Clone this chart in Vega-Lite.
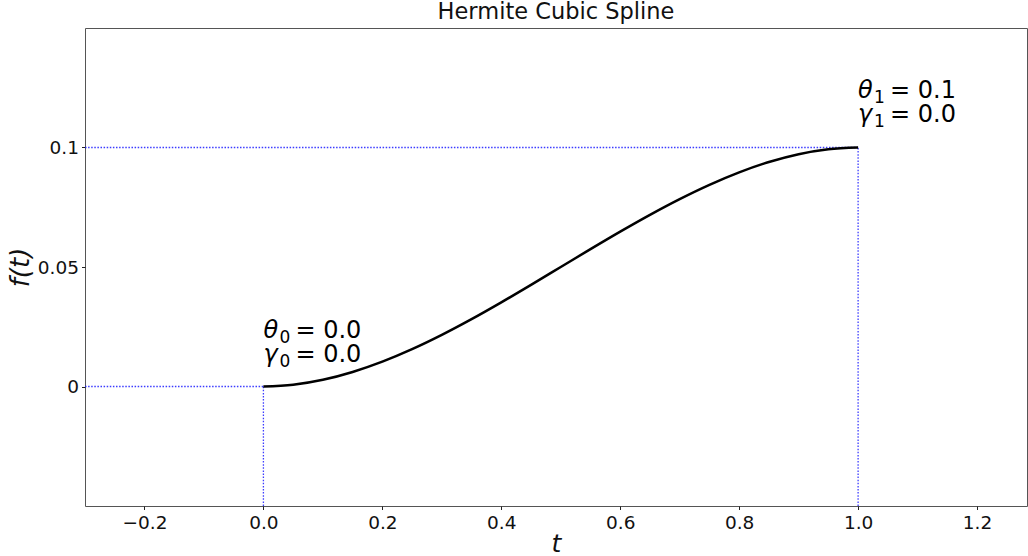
{
  "$schema": "https://vega.github.io/schema/vega-lite/v6.json",
  "autosize": "none",
  "width": 942,
  "height": 478,
  "padding": {"left": 85, "top": 28, "right": 1, "bottom": 50},
  "background": "white",
  "config": {
    "font": "DejaVu Sans",
    "view": {"stroke": "#555", "strokeWidth": 1},
    "axis": {"grid": false, "domain": false, "tickColor": "#222", "tickSize": 3.5, "labelFont": "DejaVu Sans", "labelFontSize": 18.5, "labelColor": "#111", "titleFont": "DejaVu Sans", "titleFontWeight": "normal", "titleColor": "#111"}
  },
  "title": {"text": "Hermite Cubic Spline", "fontSize": 22.5, "fontWeight": "normal", "font": "DejaVu Sans", "color": "#111", "anchor": "middle", "offset": 5},
  "layer": [
    {
      "data": {"values": [
        {"x1": -0.3, "x2": 0, "y1": 0, "y2": 0},
        {"x1": 0, "x2": 0, "y1": -0.05, "y2": 0},
        {"x1": -0.3, "x2": 1, "y1": 0.1, "y2": 0.1},
        {"x1": 1, "x2": 1, "y1": -0.05, "y2": 0.1}
      ]},
      "mark": {"type": "rule", "color": "#1a1aff", "opacity": 0.85, "strokeWidth": 1.3, "strokeDash": [1.5, 1.6]},
      "encoding": {
        "x": {"field": "x1", "type": "quantitative", "scale": {"domain": [-0.3, 1.284], "nice": false, "zero": false},
          "axis": {"values": [-0.2, 0, 0.2, 0.4, 0.6, 0.8, 1.0, 1.2], "format": ".1f", "title": "t", "titleFontSize": 25, "titleFontStyle": "italic", "titlePadding": -1, "labelPadding": 4}},
        "x2": {"field": "x2"},
        "y": {"field": "y1", "type": "quantitative", "scale": {"domain": [-0.05, 0.15], "nice": false, "zero": false},
          "axis": {"values": [0, 0.05, 0.1], "labelExpr": "format(datum.value, '~g')", "title": "f(t)", "titleFontSize": 26, "titleFontStyle": "italic", "titlePadding": 4, "labelPadding": 3}},
        "y2": {"field": "y2"}
      }
    },
    {
      "data": {"values": [
        {"t": 0, "f": 0}, {"t": 0.05, "f": 0.000725}, {"t": 0.1, "f": 0.0028}, {"t": 0.15, "f": 0.006075},
        {"t": 0.2, "f": 0.0104}, {"t": 0.25, "f": 0.015625}, {"t": 0.3, "f": 0.0216}, {"t": 0.35, "f": 0.028175},
        {"t": 0.4, "f": 0.0352}, {"t": 0.45, "f": 0.042525}, {"t": 0.5, "f": 0.05}, {"t": 0.55, "f": 0.057475},
        {"t": 0.6, "f": 0.0648}, {"t": 0.65, "f": 0.071825}, {"t": 0.7, "f": 0.0784}, {"t": 0.75, "f": 0.084375},
        {"t": 0.8, "f": 0.0896}, {"t": 0.85, "f": 0.093925}, {"t": 0.9, "f": 0.0972}, {"t": 0.95, "f": 0.099275},
        {"t": 1.0, "f": 0.1}
      ]},
      "mark": {"type": "line", "color": "#000", "strokeWidth": 2.5, "interpolate": "monotone"},
      "encoding": {
        "x": {"field": "t", "type": "quantitative"},
        "y": {"field": "f", "type": "quantitative"}
      }
    },
    {
      "data": {"values": [
        {"x": 0, "y": 0.018, "sym": "θ\nγ", "sub": "0\n0", "val": "= 0.0\n= 0.0"},
        {"x": 1, "y": 0.1185, "sym": "θ\nγ", "sub": "1\n1", "val": "= 0.1\n= 0.0"}
      ]},
      "layer": [
        {
          "mark": {"type": "text", "align": "left", "baseline": "bottom", "fontSize": 24, "fontStyle": "italic", "lineBreak": "\n", "lineHeight": 24, "color": "#000"},
          "encoding": {"x": {"field": "x", "type": "quantitative"}, "y": {"field": "y", "type": "quantitative"}, "text": {"field": "sym"}}
        },
        {
          "mark": {"type": "text", "align": "left", "baseline": "bottom", "fontSize": 17, "dx": 16, "dy": 4, "lineBreak": "\n", "lineHeight": 24, "color": "#000"},
          "encoding": {"x": {"field": "x", "type": "quantitative"}, "y": {"field": "y", "type": "quantitative"}, "text": {"field": "sub"}}
        },
        {
          "mark": {"type": "text", "align": "left", "baseline": "bottom", "fontSize": 24, "dx": 32, "lineBreak": "\n", "lineHeight": 24, "color": "#000"},
          "encoding": {"x": {"field": "x", "type": "quantitative"}, "y": {"field": "y", "type": "quantitative"}, "text": {"field": "val"}}
        }
      ]
    }
  ]
}
